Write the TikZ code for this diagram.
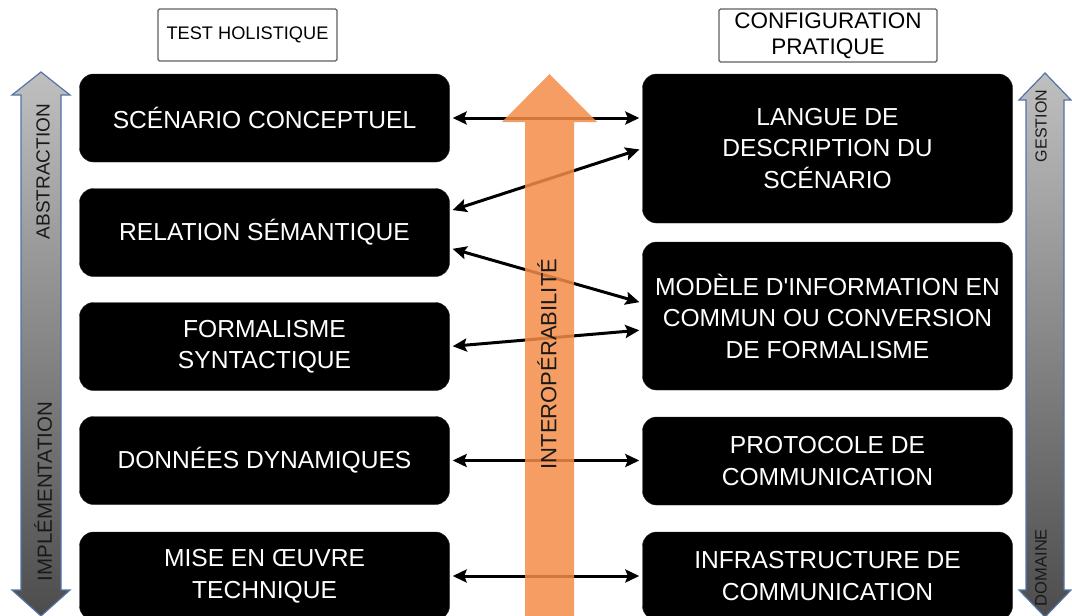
\documentclass[tikz,border=0pt]{standalone}
\usepackage{fontspec}
\setmainfont{Liberation Sans}
\usetikzlibrary{arrows.meta}
\definecolor{bleuacier}{RGB}{84,116,166}
\definecolor{orangeinterop}{RGB}{244,140,72}
\definecolor{grisbord}{RGB}{96,96,96}
\tikzset{
	bloc/.style={draw=black!85, fill=black, rounded corners=14pt, text=white, align=center,
		font=\fontsize{24.6}{31.5}\selectfont, inner sep=0pt, minimum width=370pt},
	entete/.style={draw=grisbord, line width=1.4pt, fill=white, rounded corners=1.5pt, align=center, inner sep=0pt},
	lien/.style={line width=3pt, {Stealth[length=14pt,width=13pt,inset=2.5pt]}-{Stealth[length=14pt,width=13pt,inset=2.5pt]},
		shorten <=3pt, shorten >=3pt},
	axe/.style={draw=bleuacier, line width=1.2pt, top color=black!25, middle color=white, bottom color=black!70},
	axetexte/.style={rotate=90, text=black!90}
}

\begin{document}
\begin{tikzpicture}[x=1pt, y=-1pt]
	\useasboundingbox (0,0) rectangle (1072,616);
	\clip (0,0) rectangle (1072,616);

	\node[entete, minimum width=179pt, minimum height=52pt, font=\fontsize{18.2}{21}\selectfont] (test) at (247.5,35) {TEST HOLISTIQUE};
	\node[entete, minimum width=218pt, minimum height=53pt, font=\fontsize{22.5}{26}\selectfont] (config) at (828,35.5) {CONFIGURATION\\PRATIQUE};

	\node[bloc, minimum height=88pt] (scenario) at (264.5,118) {SCÉNARIO CONCEPTUEL};
	\node[bloc, minimum height=88pt] (relation) at (264.5,232.5) {RELATION SÉMANTIQUE};
	\node[bloc, minimum height=88pt] (formalisme) at (264.5,346.5) {FORMALISME\\SYNTACTIQUE};
	\node[bloc, minimum height=88pt] (donnees) at (264.5,460.5) {DONNÉES DYNAMIQUES};
	\node[bloc, minimum height=88pt] (miseoeuvre) at (264.5,576) {MISE EN ŒUVRE\\TECHNIQUE};

	\node[bloc, minimum height=149pt] (langue) at (827.5,148.5) {LANGUE DE\\DESCRIPTION DU\\SCÉNARIO};
	\node[bloc, minimum height=148pt] (modele) at (827.5,316) {MODÈLE D\textquotesingle INFORMATION EN\\COMMUN OU CONVERSION\\DE FORMALISME};
	\node[bloc, minimum height=88pt] (protocole) at (827.5,461) {PROTOCOLE DE\\COMMUNICATION};
	\node[bloc, minimum height=88pt] (infra) at (827.5,576) {INFRASTRUCTURE DE\\COMMUNICATION};

	\draw[lien] (scenario.east) -- (scenario.east -| langue.west);
	\draw[lien] ([yshift=21.5pt]relation.east) -- (langue.west);
	\draw[lien] ([yshift=-15.5pt]relation.east) -- ([yshift=13pt]modele.west);
	\draw[lien] (formalisme.east) -- ([yshift=-14pt]modele.west);
	\draw[lien] (donnees.east) -- (donnees.east -| protocole.west);
	\draw[lien] (miseoeuvre.east) -- (miseoeuvre.east -| infra.west);

	\fill[orangeinterop, fill opacity=0.85] (549.5,74) -- (597,122) -- (574,122) -- (574,625)
		-- (525,625) -- (525,122) -- (502,122) -- cycle;
	\node[axetexte, font=\fontsize{22}{26}\selectfont] (interop) at (547,364) {INTEROPÉRABILITÉ};

	\draw[axe] (41,72) -- (70,95) -- (61,95) -- (61,590) -- (70,590) -- (41,616)
		-- (12,590) -- (21,590) -- (21,95) -- (12,95) -- cycle;
	\node[axetexte, font=\fontsize{19}{22}\selectfont] (abstraction) at (43,171.5) {ABSTRACTION};
	\node[axetexte, font=\fontsize{20.5}{24}\selectfont] (implementation) at (43,491.5) {IMPLÉMENTATION};

	\draw[axe] (1045,73) -- (1071,100) -- (1064,100) -- (1064,590) -- (1071,590) -- (1045,617)
		-- (1019,590) -- (1026,590) -- (1026,100) -- (1019,100) -- cycle;
	\node[axetexte, font=\fontsize{16}{19}\selectfont] (gestion) at (1041,126) {GESTION};
	\node[axetexte, font=\fontsize{16.5}{19}\selectfont] (domaine) at (1041,567.5) {DOMAINE};
\end{tikzpicture}
\end{document}
